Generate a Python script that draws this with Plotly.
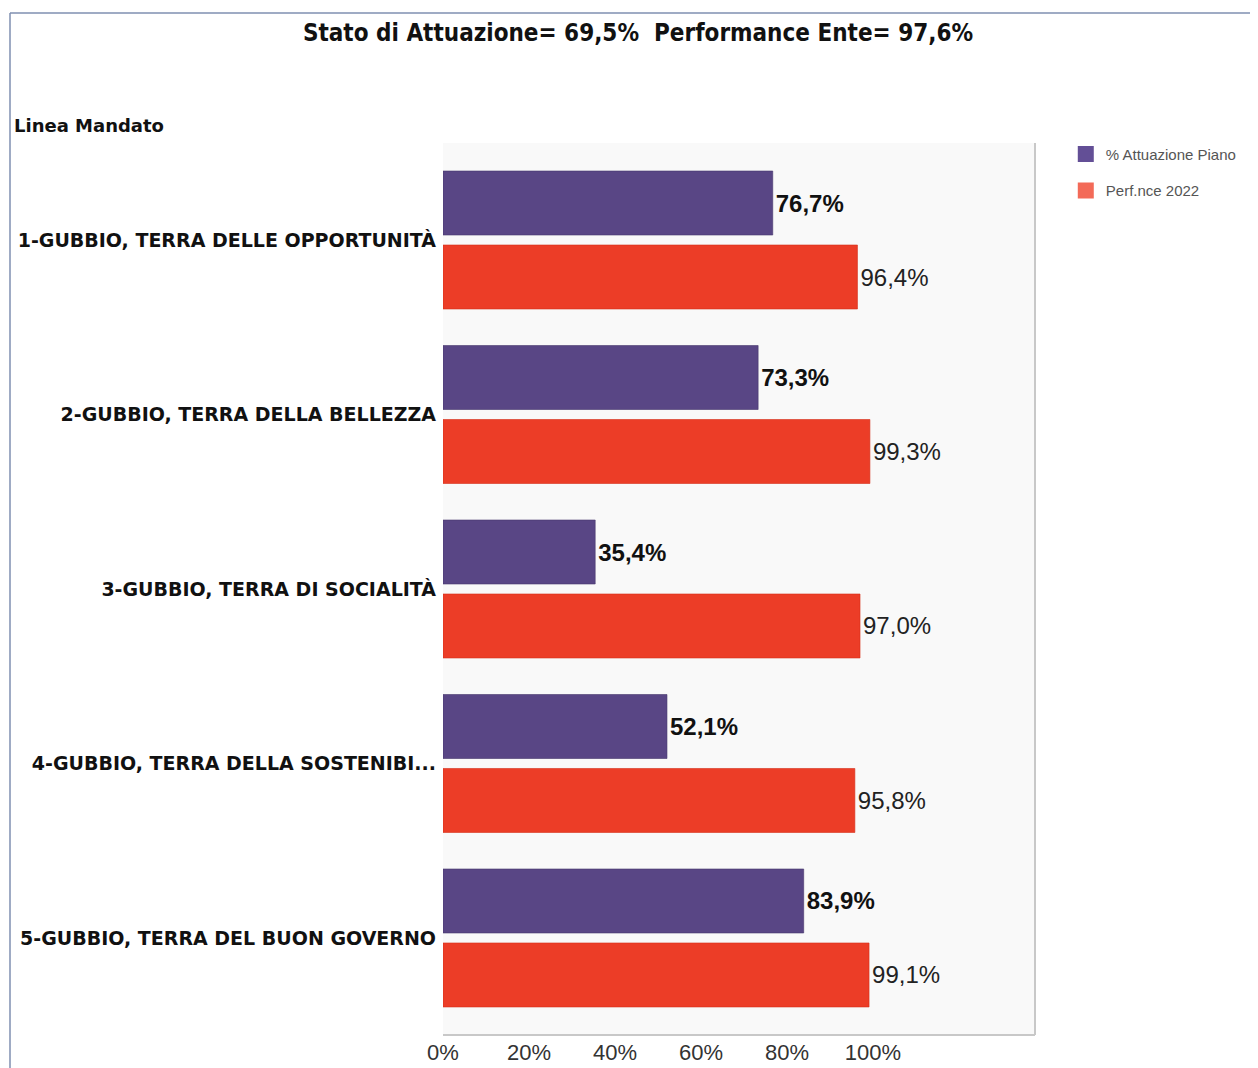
import plotly.graph_objects as go

categories = [
    "1-GUBBIO, TERRA DELLE OPPORTUNITÀ",
    "2-GUBBIO, TERRA DELLA BELLEZZA",
    "3-GUBBIO, TERRA DI SOCIALITÀ",
    "4-GUBBIO, TERRA DELLA SOSTENIBI...",
    "5-GUBBIO, TERRA DEL BUON GOVERNO",
]
attuazione = [76.7, 73.3, 35.4, 52.1, 83.9]
performance = [96.4, 99.3, 97.0, 95.8, 99.1]
tick_values = [0, 20, 40, 60, 80, 100]
tick_labels = ["0%", "20%", "40%", "60%", "80%", "100%"]
series_names = ["% Attuazione Piano", "Perf.nce 2022"]
title_text = "Stato di Attuazione= 69,5%  Performance Ente= 97,6%"

OFF = 8  # page body margin
W, H = 1258 - OFF, 1068 - OFF
L, R, T, B = 443 - OFF, 1035 - OFF, 143 - OFF, 1035 - OFF

PURPLE = "#594685"
RED = "#ec3d27"

fig = go.Figure()
fig.add_trace(go.Bar(
    y=categories, x=attuazione, orientation="h", name=series_names[0],
    marker=dict(color=PURPLE, line=dict(color="#46376b", width=0.6)),
    texttemplate="%{x:.1f}%", textposition="outside", cliponaxis=False,
    textfont=dict(family="Liberation Sans, Arial", size=24, color="#111", weight="bold"),
    showlegend=False,
))
fig.add_trace(go.Bar(
    y=categories, x=performance, orientation="h", name=series_names[1],
    marker=dict(color=RED, line=dict(color="#d52f1a", width=0.6)),
    texttemplate="%{x:.1f}%", textposition="outside", cliponaxis=False,
    textfont=dict(family="Liberation Sans, Arial", size=24, color="#222"),
    showlegend=False,
))
# legend entries
fig.add_trace(go.Scatter(x=[None], y=[None], mode="markers", name=series_names[0],
                         marker=dict(symbol="square", size=16, color="#634f96"),
                         legendgroup="a"))
fig.add_trace(go.Scatter(x=[None], y=[None], mode="markers", name=series_names[1],
                         marker=dict(symbol="square", size=16, color="#f36a58"),
                         legendgroup="b"))

fig.update_layout(
    width=W, height=H,
    margin=dict(l=L, r=W - R, t=T, b=H - B, autoexpand=False),
    barmode="group", bargap=0.152, bargroupgap=0.135,
    separators=",.",
    paper_bgcolor="white", plot_bgcolor="#f9f9f9",
    showlegend=True,
    legend=dict(x=1.052, y=1.006, xanchor="left", yanchor="top",
                font=dict(family="Liberation Sans, Arial", size=15, color="#555"),
                itemsizing="trace", tracegroupgap=14, bgcolor="rgba(0,0,0,0)"),
    title=dict(text="<b>" + title_text + "</b>", x=(638 - OFF) / W, xref="container", xanchor="center",
               y=1 - (33 - OFF) / H, yref="container", yanchor="middle",
               font=dict(family="DejaVu Sans Condensed, DejaVu Sans", size=24, color="#111")),
    xaxis=dict(range=[0, 137.7], tickvals=tick_values, ticktext=tick_labels,
               showgrid=False, zeroline=False, showline=False, ticks="",
               ticklabelstandoff=2,
               tickfont=dict(family="Liberation Sans, Arial", size=22, color="#333"),
               automargin=False),
    yaxis=dict(range=[4.556, -0.556], showgrid=False, zeroline=False, showline=False,
               ticks="", ticklabelstandoff=6,
               tickfont=dict(family="DejaVu Sans", size=19, color="#111", weight="bold"),
               automargin=False),
    xaxis_fixedrange=True, yaxis_fixedrange=True,
)

pw, ph = R - L, B - T
def px(x):
    return (x - OFF - L) / pw
def py(y):
    return (B - (y - OFF)) / ph

fig.add_annotation(text="<b>Linea Mandato</b>", xref="paper", yref="paper",
                   x=px(12), y=py(126), xanchor="left", yanchor="middle", showarrow=False,
                   font=dict(family="DejaVu Sans", size=18, color="#111"))

# page border (top and left) and plot shadow
fig.add_shape(type="line", xref="paper", yref="paper", x0=px(10), x1=px(1258), y0=py(13), y1=py(13),
              line=dict(color="#7f8fb0", width=1.5))
fig.add_shape(type="line", xref="paper", yref="paper", x0=px(10), x1=px(10), y0=py(13), y1=py(1068),
              line=dict(color="#7f8fb0", width=1.5))
fig.add_shape(type="line", xref="paper", yref="paper", x0=1, x1=1, y0=0, y1=1,
              line=dict(color="#c8c8c8", width=2))
fig.add_shape(type="line", xref="paper", yref="paper", x0=0, x1=1, y0=0, y1=0,
              line=dict(color="#c8c8c8", width=2))

fig.write_html("out.html")
